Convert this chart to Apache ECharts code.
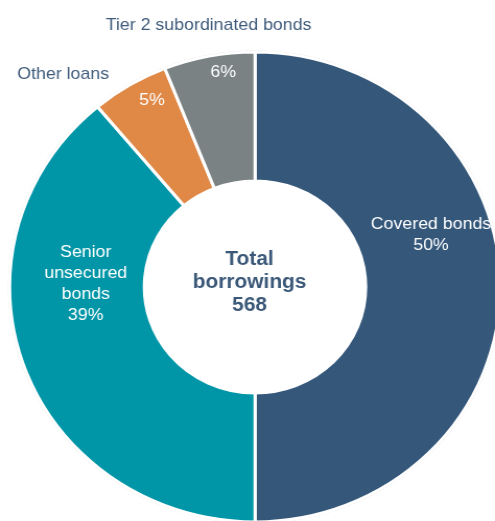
<!DOCTYPE html>
<html><head><meta charset="utf-8">
<script src="https://cdn.jsdelivr.net/npm/echarts@6/dist/echarts.min.js"></script>
<style>html,body{margin:0;padding:0;background:#fff;overflow:hidden}
#wrap{width:495px;height:521px;overflow:hidden}
#c{width:474px;height:521px;transform:scaleX(1.0443);transform-origin:0 0}</style>
</head><body><div id="wrap"><div id="c"></div></div>
<script>
var categories = ['Covered bonds', 'Senior unsecured bonds', 'Other loans', 'Tier 2 subordinated bonds'];
var values = [284, 221, 29, 34];
var insideNames = ['Covered bonds', 'Senior\nunsecured\nbonds', '', ''];
var outsideNames = ['', '', 'Other loans', 'Tier 2 subordinated bonds'];
var colors = ['#34577A', '#0096A7', '#E08845', '#7A8284'];
var totalLabel = 'Total\nborrowings\n568';

var insideShift = [[-5, -52], [1, -62], [-10, -38], [2, -44]];
var outsideShift = [[0, 0], [0, 0], [-95, -64], [-12, -91]];

var chart = echarts.init(document.getElementById('c'), null, {renderer: 'canvas', width: 474, height: 521});
var mainData = categories.map(function (c, i) {
  return {name: c, value: values[i], itemStyle: {color: colors[i]}};
});
var ghostData = categories.map(function (c, i) {
  return {name: c, value: values[i], itemStyle: {color: 'rgba(0,0,0,0)'}, label: {show: outsideNames[i] !== ''}};
});
var ringData = categories.map(function (c, i) {
  return {name: c, value: values[i]};
});
var font = 'Liberation Sans, Arial, sans-serif';
chart.setOption({
  animation: false,
  title: {
    text: totalLabel, left: 234, top: 243, textAlign: 'center',
    textStyle: {fontFamily: font, fontSize: 20, fontWeight: 'bold', color: '#3B5878', lineHeight: 23}
  },
  series: [
    {
      type: 'pie', center: [244.2, 287], radius: [234, 236.5], startAngle: 90, clockwise: true,
      data: ringData, silent: true, z: 1,
      itemStyle: {color: '#dadada', borderWidth: 0},
      label: {show: false}, labelLine: {show: false}
    },
    {
      type: 'pie', center: [244.2, 287], radius: [106, 235], startAngle: 90, clockwise: true,
      data: mainData, silent: true, z: 2,
      itemStyle: {borderColor: '#fff', borderWidth: 3},
      label: {
        show: true, position: 'inside', color: '#fff',
        fontFamily: font, fontSize: 17, lineHeight: 21,
        formatter: function (p) {
          var pct = Math.round(p.percent) + '%';
          var n = insideNames[p.dataIndex];
          return n ? n + '\n' + pct : pct;
        }
      },
      labelLine: {show: false},
      labelLayout: function (p) {
        var s = insideShift[p.dataIndex];
        return {dx: s[0], dy: s[1]};
      }
    },
    {
      type: 'pie', center: [244.2, 287], radius: [106, 235], startAngle: 90, clockwise: true,
      data: ghostData, silent: true, z: 3,
      label: {
        position: 'inside', color: '#3F5B7B',
        fontFamily: font, fontSize: 17,
        formatter: function (p) { return outsideNames[p.dataIndex]; }
      },
      labelLine: {show: false},
      labelLayout: function (p) {
        var s = outsideShift[p.dataIndex];
        return {dx: s[0], dy: s[1]};
      }
    }
  ]
});
</script></body></html>
